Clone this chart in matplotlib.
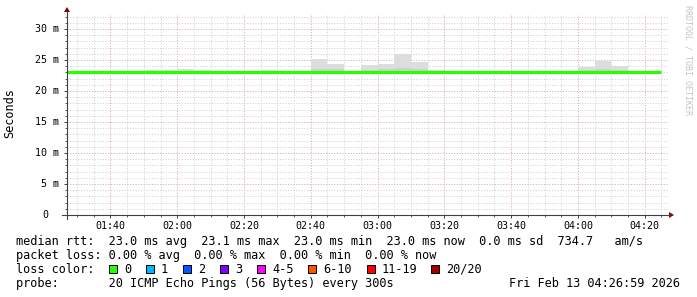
import matplotlib.pyplot as plt
import matplotlib.transforms as mtransforms
from matplotlib.patches import Rectangle, Polygon
from matplotlib.lines import Line2D

W, H = 697, 297

# 5-minute smokeping bins (start time of each bin)
bin_start = ["01:25", "01:30", "01:35", "01:40", "01:45", "01:50", "01:55", "02:00", "02:05",
             "02:10", "02:15", "02:20", "02:25", "02:30", "02:35", "02:40", "02:45", "02:50",
             "02:55", "03:00", "03:05", "03:10", "03:15", "03:20", "03:25", "03:30", "03:35",
             "03:40", "03:45", "03:50", "03:55", "04:00", "04:05", "04:10", "04:15", "04:20"]
# median rtt in ms
median_rtt = [23.0, 23.0, 23.0, 23.0, 23.0, 23.0, 23.0, 23.0, 23.0,
              23.0, 23.0, 23.1, 23.0, 23.0, 23.0, 23.1, 23.1, 23.1,
              23.0, 23.1, 23.1, 23.1, 23.0, 23.0, 23.0, 23.0, 23.1,
              23.0, 23.0, 23.0, 23.1, 23.0, 23.0, 23.0, 23.1, 23.0]
# highest ping of each bin (outer smoke), ms
smoke_top = [23.0, 23.0, 23.0, 23.0, 23.0, 23.35, 23.35, 23.5, 23.35,
             23.0, 23.0, 23.1, 23.35, 23.0, 23.0, 25.2, 24.4, 23.1,
             24.2, 24.35, 26.0, 24.6, 23.4, 23.3, 23.3, 23.3, 23.1,
             23.3, 23.0, 23.0, 23.1, 23.8, 24.8, 24.1, 23.1, 23.0]
# inner (denser) part of the smoke, ms
smoke_inner = [23.0, 23.0, 23.0, 23.0, 23.0, 23.0, 23.0, 23.0, 23.0,
               23.0, 23.0, 23.1, 23.0, 23.0, 23.0, 23.6, 23.6, 23.1,
               23.4, 23.6, 23.7, 23.5, 23.0, 23.0, 23.0, 23.0, 23.1,
               23.0, 23.0, 23.0, 23.1, 23.4, 23.5, 23.4, 23.1, 23.0]

x_ticks = ["01:40", "02:00", "02:20", "02:40", "03:00", "03:20", "03:40", "04:00", "04:20"]
y_ticks = [0, 5, 10, 15, 20, 25, 30]
y_labels = ["0", "5 m", "10 m", "15 m", "20 m", "25 m", "30 m"]

loss_labels = ["0", "1", "2", "3", "4-5", "6-10", "11-19", "20/20"]
loss_colors = ["#26ff00", "#00b8ff", "#0059ff", "#7e00ff", "#ff00ff", "#ff5500", "#ff0000", "#a10000"]


def minutes(t):
    h, m = t.split(":")
    return int(h) * 60 + int(m)


def fx(x):
    return x / W


def fy(y):
    return 1 - y / H


mono = "DejaVu Sans Mono"
fs = 8.55
fig = plt.figure(figsize=(W / 100, H / 100), dpi=100)
fig.patch.set_facecolor("white")

ax = fig.add_axes([fx(67), fy(215), (668 - 67) / W, (215 - 13.5) / H])
ax.set_xlim(minutes("01:26") + 59 / 60, minutes("04:26") + 59 / 60)
ax.set_ylim(0, (215 - 13.5) / 6.2)

starts = [minutes(t) for t in bin_start]
edges = starts + [starts[-1] + 5]

# smoke
ax.bar(starts, [t - m for t, m in zip(smoke_top, median_rtt)], bottom=median_rtt,
       width=5, align="edge", color="#dddddd", lw=0, zorder=2)
ax.bar(starts, [t - m for t, m in zip(smoke_inner, median_rtt)], bottom=median_rtt,
       width=5, align="edge", color="#d0d0d0", lw=0, zorder=2)
# median line
ax.stairs(median_rtt, edges, color="#26ff00", lw=2.3, zorder=3, baseline=None)

# grid
ax.set_xticks([minutes(t) for t in x_ticks])
ax.set_xticks(range(minutes("01:30"), minutes("04:26"), 5), minor=True)
ax.set_yticks(y_ticks)
ax.set_yticks(range(0, 33), minor=True)
ax.grid(which="minor", color="#d4d4d4", linestyle=(0, (1.2, 1.6)), lw=0.7, zorder=1)
ax.grid(which="major", color="#ddb0b0", linestyle=(0, (1.2, 1.6)), lw=0.7, zorder=1)
ax.set_xticklabels(x_ticks, family=mono, fontsize=7.2)
ax.set_yticklabels([])
ax.tick_params(which="major", length=2.2, width=0.7, color="#404040", pad=2)
ax.tick_params(which="minor", length=1.2, width=0.6, color="#404040")
for s in ax.spines.values():
    s.set_visible(False)

trans = mtransforms.blended_transform_factory(fig.transFigure, ax.transData)
for v, lab in zip(y_ticks, y_labels):
    ax.text(fx(48) if lab == "0" else fx(59), v, lab, transform=trans, ha="right",
            va="center", family=mono, fontsize=7.2)

# axes with arrows
fig.add_artist(Line2D([fx(67), fx(67)], [fy(219), fy(11)], color="#404040", lw=0.8))
fig.add_artist(Line2D([fx(62), fx(670)], [fy(215), fy(215)], color="#404040", lw=0.8))
fig.add_artist(Polygon([[fx(64), fy(12)], [fx(70), fy(12)], [fx(67), fy(7)]], closed=True,
                       color="#800000", lw=0))
fig.add_artist(Polygon([[fx(669), fy(212)], [fx(669), fy(218)], [fx(674), fy(215)]], closed=True,
                       color="#800000", lw=0))

fig.text(fx(10), fy(113), "Seconds", rotation=90, ha="center", va="center", family=mono, fontsize=fs)
fig.text(fx(688), fy(5), "RRDTOOL / TOBI OETIKER", rotation=-90, ha="center", va="top",
         family=mono, fontsize=6, color="#c4c4c4")

# legend
lines = [
    "median rtt:  23.0 ms avg  23.1 ms max  23.0 ms min  23.0 ms now  0.0 ms sd  734.7   am/s",
    "packet loss: 0.00 % avg  0.00 % max  0.00 % min  0.00 % now",
]
for i, txt in enumerate(lines):
    fig.text(fx(16), fy(245 + 14 * i), txt, ha="left", va="baseline", family=mono, fontsize=fs)

fig.text(fx(16), fy(273), "loss color:", ha="left", va="baseline", family=mono, fontsize=fs)
box_x = [109, 146, 183, 220, 257, 308, 367, 431]
for bx, lab, col in zip(box_x, loss_labels, loss_colors):
    fig.add_artist(Rectangle((fx(bx), fy(273)), 8 / W, 8 / H, facecolor=col, edgecolor="black", lw=0.7))
    fig.text(fx(bx + 15), fy(273), lab, ha="left", va="baseline", family=mono, fontsize=fs)

fig.text(fx(16), fy(287), "probe:       20 ICMP Echo Pings (56 Bytes) every 300s", ha="left",
         va="baseline", family=mono, fontsize=fs)
fig.text(fx(680), fy(287), "Fri Feb 13 04:26:59 2026", ha="right", va="baseline", family=mono, fontsize=fs)

fig.savefig("out.png", dpi=100)
